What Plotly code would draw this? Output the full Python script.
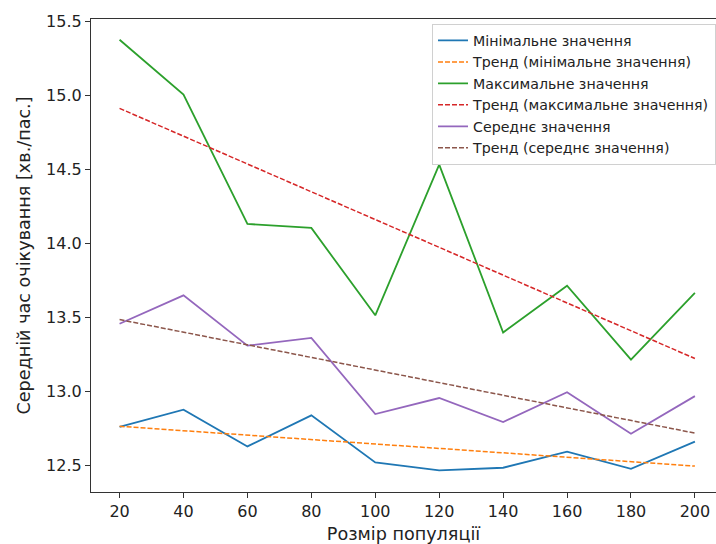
import plotly.graph_objects as go

population = [20, 40, 60, 80, 100, 120, 140, 160, 180, 200]

min_values = [12.762, 12.878, 12.630, 12.840, 12.522, 12.468, 12.486, 12.595, 12.478, 12.662]
min_trend = [12.766, 12.736, 12.706, 12.676, 12.646, 12.617, 12.587, 12.557, 12.527, 12.497]

max_values = [15.378, 15.007, 14.133, 14.106, 13.516, 14.534, 13.400, 13.716, 13.216, 13.667]
max_trend = [14.914, 14.726, 14.538, 14.351, 14.163, 13.975, 13.787, 13.599, 13.412, 13.224]

mean_values = [13.459, 13.651, 13.311, 13.363, 12.849, 12.957, 12.795, 12.996, 12.716, 12.970]
mean_trend = [13.487, 13.402, 13.317, 13.231, 13.146, 13.061, 12.976, 12.891, 12.805, 12.720]

x_ticks = [20, 40, 60, 80, 100, 120, 140, 160, 180, 200]
y_ticks = [12.5, 13.0, 13.5, 14.0, 14.5, 15.0, 15.5]

series = [
    ("Мінімальне значення", min_values, "#1f77b4", "solid"),
    ("Тренд (мінімальне значення)", min_trend, "#ff7f0e", "5px,2px"),
    ("Максимальне значення", max_values, "#2ca02c", "solid"),
    ("Тренд (максимальне значення)", max_trend, "#d62728", "5px,2px"),
    ("Середнє значення", mean_values, "#9467bd", "solid"),
    ("Тренд (середнє значення)", mean_trend, "#8c564b", "5px,2px"),
]

fig = go.Figure()
for name, vals, color, dash in series:
    fig.add_trace(go.Scatter(
        x=population, y=vals, mode="lines", name=name,
        line=dict(color=color, width=1.8 if dash == "solid" else 1.5, dash=dash),
    ))

font_family = "DejaVu Sans"
fig.update_layout(
    width=716, height=544,
    margin=dict(l=91, r=0, t=19, b=52),
    paper_bgcolor="white", plot_bgcolor="white",
    font=dict(family=font_family, color="#222222", size=16),
    showlegend=True,
    legend=dict(
        x=1, xanchor="right", y=0.99, yanchor="top",
        bgcolor="rgba(255,255,255,0.8)", bordercolor="#d0d0d0", borderwidth=1,
        font=dict(family=font_family, size=14.2, color="#222222"),
        itemwidth=30,
    ),
    xaxis=dict(
        range=[11.06, 206.6], tickvals=x_ticks, ticktext=[str(v) for v in x_ticks],
        showgrid=False, zeroline=False, showline=True, linecolor="#333333", linewidth=1.3,
        mirror=True, ticks="outside", ticklen=5, tickcolor="#333333",
        title=dict(text="Розмір популяції", standoff=9, font=dict(size=17.6)),
        tickfont=dict(size=16),
    ),
    yaxis=dict(
        range=[12.322, 15.518], tickvals=y_ticks, ticktext=[f"{v:.1f}" for v in y_ticks],
        showgrid=False, zeroline=False, showline=True, linecolor="#333333", linewidth=1.3,
        ticks="outside", ticklen=5, tickcolor="#333333",
        title=dict(text="Середній час очікування [хв./пас.]", standoff=10, font=dict(size=17.6)),
        tickfont=dict(size=16),
    ),
)

fig.write_html("out.html")
